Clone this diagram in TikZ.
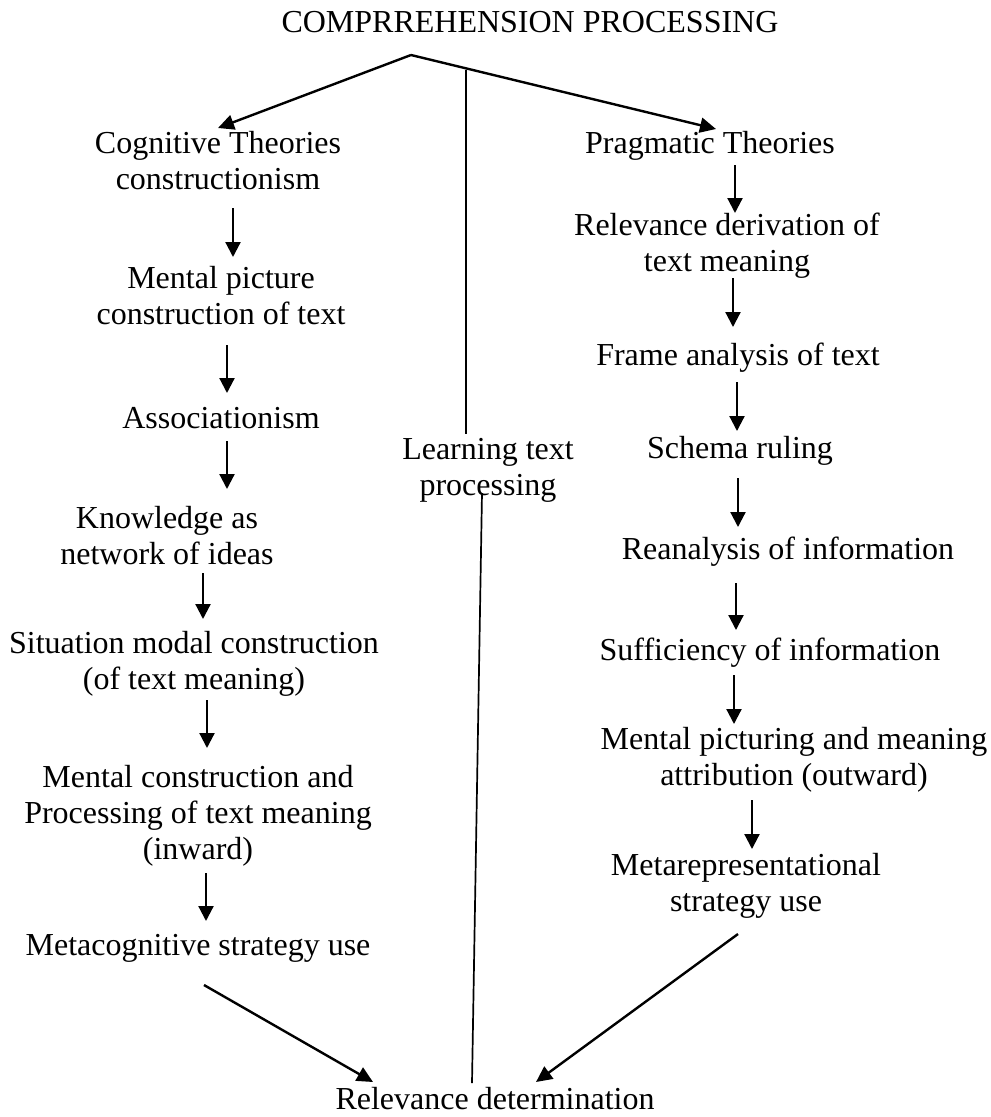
\documentclass[tikz,border=0pt]{standalone}
\usepackage{fontspec}
\setmainfont{Liberation Serif}
\usetikzlibrary{arrows.meta,calc}
\newcommand{\mlines}[1]{\begin{tabular}[t]{@{}c@{}}#1\end{tabular}}
\begin{document}
\begin{tikzpicture}[x=1pt,y=-1pt,
  lbl/.style={inner sep=0pt,outer sep=0pt,anchor=base,font=\fontsize{32}{36}\selectfont},
  arr/.style={line width=2.2pt,-{Triangle[width=15pt,length=15pt]}},
  darr/.style={line width=2.4pt,-{Triangle[width=15pt,length=16pt]}},
  plain/.style={line width=1.7pt}]
\useasboundingbox (0,0) rectangle (991,1117);
% nodes
\node[lbl] (title) at (530,32) {\mlines{COMPRREHENSION PROCESSING}};
\node[lbl] (cog) at (218,153) {\mlines{Cognitive Theories\\constructionism}};
\node[lbl] (mpic) at (221,288) {\mlines{Mental picture\\construction of text}};
\node[lbl] (assoc) at (221,428) {\mlines{Associationism}};
\node[lbl] (know) at (167,528) {\mlines{Knowledge as\\network of ideas}};
\node[lbl] (sit) at (194,653) {\mlines{Situation modal construction\\(of text meaning)}};
\node[lbl] (mcon) at (198,787) {\mlines{Mental construction and\\Processing of text meaning\\(inward)}};
\node[lbl] (metac) at (198,955) {\mlines{Metacognitive strategy use}};
\node[lbl] (learn) at (488,459) {\mlines{Learning text\\processing}};
\node[lbl] (rel) at (495,1109) {\mlines{Relevance determination}};
\node[lbl] (prag) at (710,153) {\mlines{Pragmatic Theories}};
\node[lbl] (rder) at (727,235) {\mlines{Relevance derivation of\\text meaning}};
\node[lbl] (frame) at (738,365) {\mlines{Frame analysis of text}};
\node[lbl] (schema) at (740,458) {\mlines{Schema ruling}};
\node[lbl] (rean) at (788,559) {\mlines{Reanalysis of information}};
\node[lbl] (suff) at (770,660) {\mlines{Sufficiency of information}};
\node[lbl] (mpict) at (794,749) {\mlines{Mental picturing and meaning\\attribution (outward)}};
\node[lbl] (metar) at (746,875) {\mlines{Metarepresentational\\strategy use}};
% branch point and top of the middle line
\coordinate (root) at ($(title.south)+(-119,12.2)$);
\coordinate (mtop) at ($(learn.north)+(-22,-363.8)$);
% top branches
\draw[darr] (root) -- ($(cog.north)+(0,0.2)$);
\draw[darr] (root) -- ($(prag.north)+(6,1.2)$);
\draw[plain] (mtop) -- ($(learn.north)+(-22,0)$);
% left column
\draw[arr] ($(cog.south)+(15,8.2)$) -- ($(mpic.north)+(12,-5.8)$);
\draw[arr] ($(mpic.south)+(6,10.2)$) -- ($(assoc.north)+(6,-9.8)$);
\draw[arr] ($(assoc.south)+(6,2.2)$) -- ($(know.north)+(60,-13.8)$);
\draw[arr] ($(know.south)+(36,-1.8)$) -- ($(sit.north)+(9,-8.8)$);
\draw[arr] ($(sit.south)+(13,0.2)$) -- ($(mcon.north)+(9,-13.8)$);
\draw[arr] ($(mcon.south)+(8,3.2)$) -- ($(metac.north)+(8,-8.8)$);
% right column
\draw[arr] ($(prag.south)+(25,1.2)$) -- ($(rder.north)+(8,3.2)$);
\draw[arr] ($(rder.south)+(6,-3.8)$) -- ($(frame.north)+(-5,-12.8)$);
\draw[arr] ($(frame.south)+(-1,6.2)$) -- ($(schema.north)+(-3,-1.8)$);
\draw[arr] ($(schema.south)+(-2,9.2)$) -- ($(rean.north)+(-50,-6.8)$);
\draw[arr] ($(rean.south)+(-52,13.2)$) -- ($(suff.north)+(-34,-4.8)$);
\draw[arr] ($(suff.south)+(-36,4.2)$) -- ($(mpict.north)+(-60,0.2)$);
\draw[arr] ($(mpict.south)+(-42,4.2)$) -- ($(metar.north)+(6,-0.8)$);
% bottom
\draw[plain] ($(learn.south)+(-6,-12.8)$) -- ($(rel.north)+(-23,-0.8)$);
\draw[darr] ($(metac.south)+(6,19.2)$) -- ($(rel.north)+(-122,-1.8)$);
\draw[darr] ($(metar.south)+(-8,12.2)$) -- ($(rel.north)+(41,-1.8)$);
\end{tikzpicture}
\end{document}
